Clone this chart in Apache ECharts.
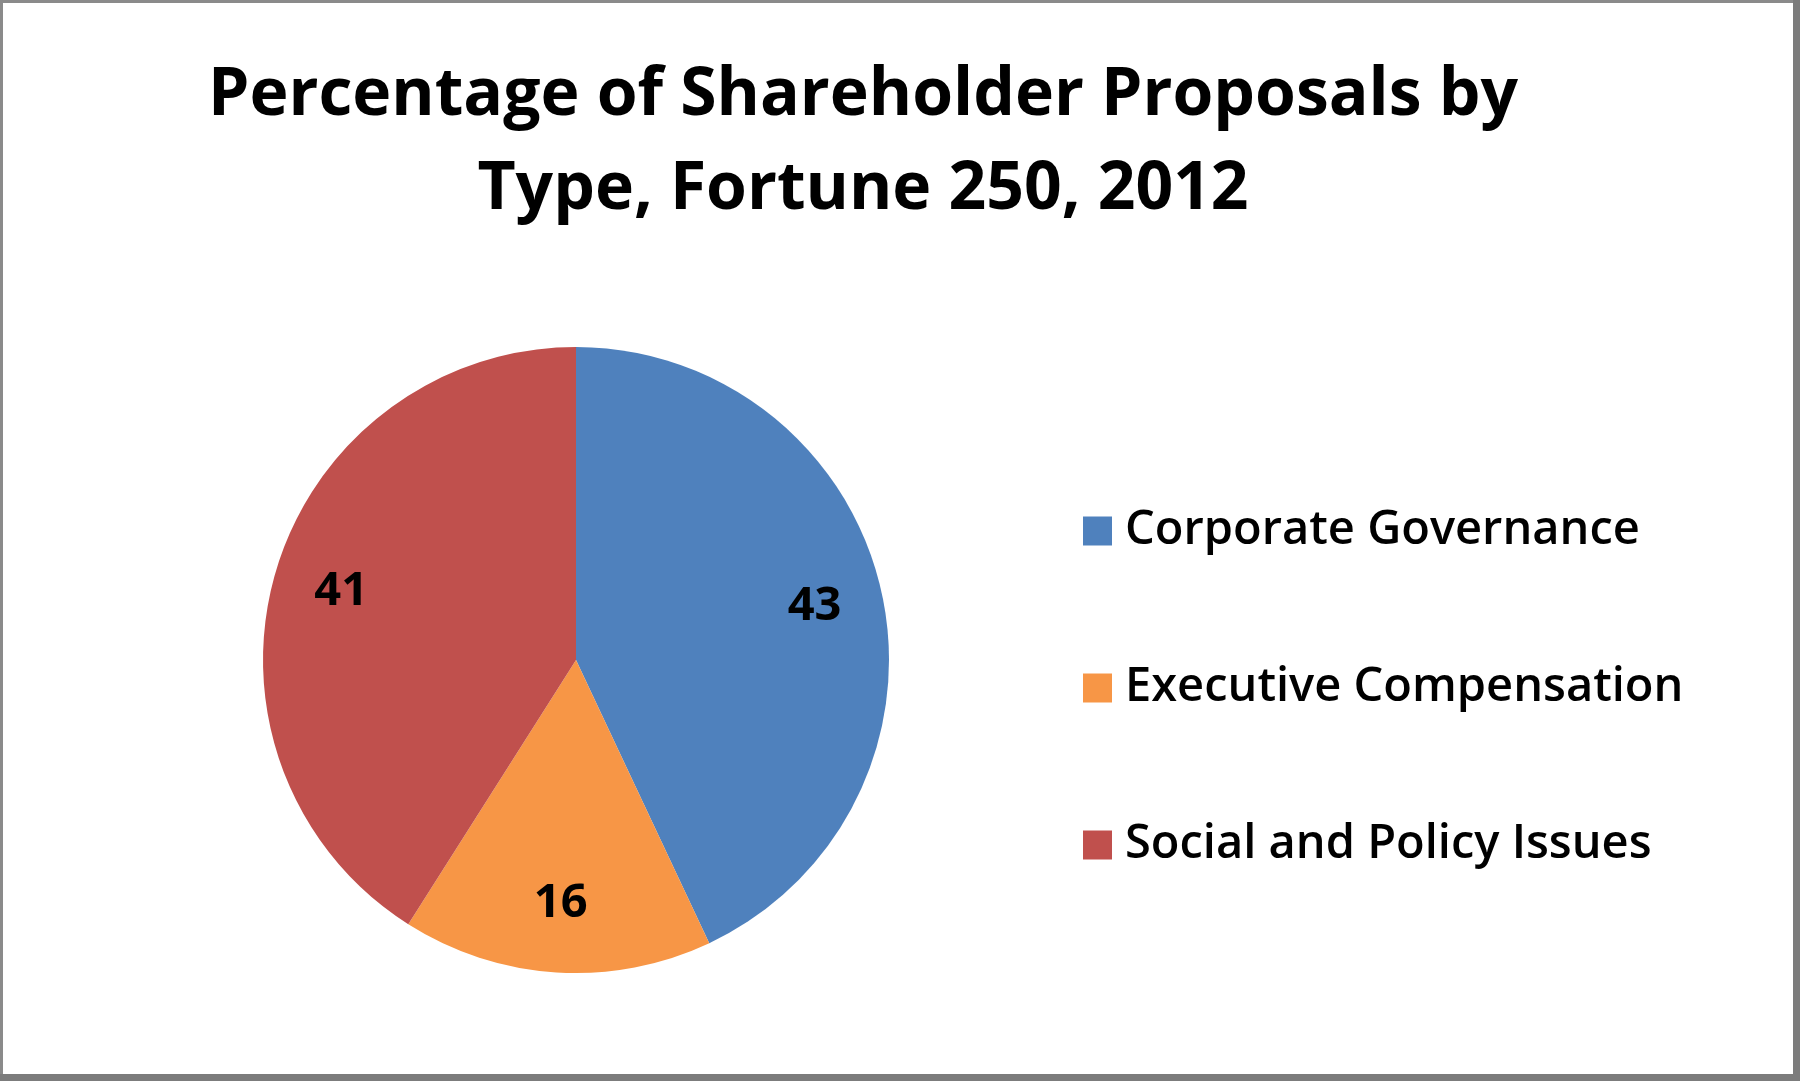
<!DOCTYPE html>
<html>
<head>
<meta charset="utf-8">
<title>Shareholder Proposals by Type</title>
<script src="https://cdn.jsdelivr.net/npm/echarts@6/dist/echarts.min.js"></script>
<style>
  html, body { margin: 0; padding: 0; background: #fff; }
  #chart { width: 1800px; height: 1081px; }
</style>
</head>
<body>
<div id="chart"></div>
<script>
// data
const titleText = 'Percentage of Shareholder Proposals by\nType, Fortune 250, 2012';
const categories = ['Corporate Governance', 'Executive Compensation', 'Social and Policy Issues'];
const values = [43, 16, 41];
const colors = ['#4F81BD', '#F79646', '#C0504D'];

const pieData = categories.map((name, i) => ({ name: name, value: values[i] }));

const chart = echarts.init(document.getElementById('chart'), null, { renderer: 'canvas' });

const option = {
  backgroundColor: '#ffffff',
  animation: false,
  color: colors,
  title: {
    text: titleText,
    left: 858,
    top: 44,
    textAlign: 'center',
    textStyle: {
      fontFamily: 'Open Sans',
      fontWeight: 'bold',
      fontSize: 66,
      lineHeight: 94,
      color: '#000'
    }
  },
  legend: {
    orient: 'vertical',
    left: 1083,
    top: 506,
    padding: 0,
    itemWidth: 29,
    itemHeight: 29,
    itemGap: 107,
    icon: 'rect',
    data: categories,
    selectedMode: false,
    textStyle: {
      fontFamily: 'Open Sans',
      fontWeight: 600,
      fontSize: 47,
      lineHeight: 50,
      color: '#000',
      padding: [0, 0, 0, 8]
    }
  },
  graphic: [
    { type: 'rect', shape: { x: 1.5, y: 1.5, width: 1795, height: 1076 }, style: { fill: 'none', stroke: '#8a8a8a', lineWidth: 3 }, silent: true },
    { type: 'rect', shape: { x: 1793, y: 0, width: 7, height: 1081 }, style: { fill: '#7c7c7c' }, silent: true },
    { type: 'rect', shape: { x: 0, y: 1074, width: 1800, height: 7 }, style: { fill: '#7c7c7c' }, silent: true }
  ],
  series: [
    {
      name: 'slices',
      type: 'pie',
      center: [576, 660],
      radius: [0, 313],
      startAngle: 90,
      clockwise: true,
      silent: true,
      label: { show: false },
      labelLine: { show: false },
      itemStyle: { borderWidth: 0 },
      data: pieData
    },
    {
      // transparent ring that only carries the value labels further out
      name: 'labels',
      type: 'pie',
      center: [576, 660],
      radius: [170, 313],
      startAngle: 90,
      clockwise: true,
      silent: true,
      itemStyle: { color: 'transparent', borderWidth: 0 },
      label: {
        show: true,
        position: 'inside',
        formatter: '{c}',
        fontFamily: 'Open Sans',
        fontWeight: 'bold',
        fontSize: 47,
        color: '#000'
      },
      labelLine: { show: false },
      data: pieData
    }
  ]
};

chart.setOption(option);
</script>
</body>
</html>
